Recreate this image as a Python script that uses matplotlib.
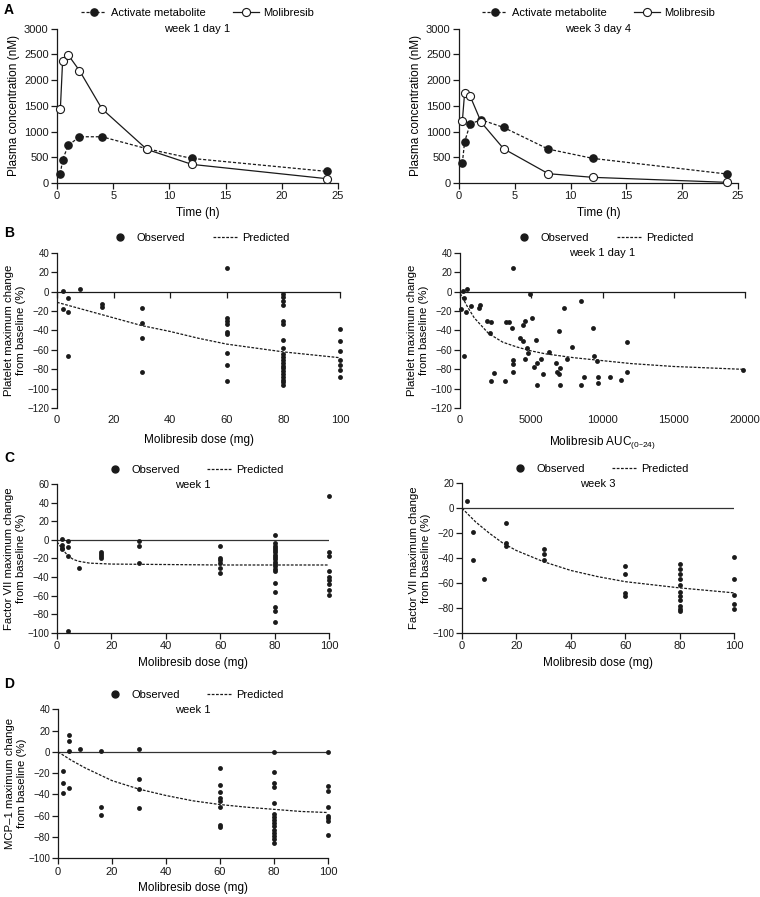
import numpy as np
import matplotlib
matplotlib.use('Agg')
import matplotlib.pyplot as plt
from matplotlib.lines import Line2D

plt.rcParams['font.family'] = ['Liberation Sans', 'DejaVu Sans']
plt.rcParams['font.size'] = 8

INK = '#1a1a1a'

# ---- panel A: PK profiles
t_h = [0.3, 0.5, 1, 2, 4, 8, 12, 24]
w1_metab = [181, 453, 731, 899, 899, 666, 478, 226]
w1_moli = [1442, 2379, 2489, 2185, 1442, 653, 362, 84]
w3_metab = [388, 795, 1151, 1228, 1080, 659, 478, 175]
w3_moli = [1203, 1746, 1688, 1177, 666, 181, 110, 13]

# ---- shared dose groups
doses = [2, 4, 8, 16, 30, 60, 80, 100]

# ---- panel B: platelets vs dose
plt_obs = [
    [1, -17.5],
    [-7, -21, -66],
    [3],
    [-13, -16],
    [-17, -32, -48, -83],
    [24, -27.5, -30, -33, -42, -44, -63.5, -75, -91.5],
    [-2, -6, -10, -14, -30, -33, -50, -58, -64, -67, -70, -73, -76, -79, -82, -85, -88, -91, -93, -96],
    [-38, -51, -61, -70, -75, -81, -88],
]
plt_pred_dose = [0, 10, 20, 30, 40, 50, 60, 70, 80, 90, 100]
plt_pred = [-11, -19, -27, -35, -41, -48, -54, -58, -62, -65, -68]

# ---- panel B: platelets vs AUC
auc = [70, 235, 306, 470, 424, 282, 776, 1365, 1412, 1906, 2188, 2118, 2188, 2376,
       3153, 3247, 3435, 3647, 3741, 3741, 3741, 3741, 4188, 4400, 4400, 4588, 4706,
       4753, 4541, 4894, 5059, 5318, 5200, 5435, 5435, 5671, 5812, 6259, 6706, 6800,
       6941, 6941, 6988, 7035, 7271, 7482, 7882, 8470, 8518, 8706, 9318, 9412, 9600,
       9718, 9718, 10494, 11294, 11694, 11694, 19835]
auc_plt = [-17.5, 0.6, -7, 2.7, -21, -66, -14.7, -16.5, -13.7, -30, -31.6, -42.5, -92, -84,
           -92, -31.6, -31.6, -37, 24, -70.3, -74.8, -82.3, -47.3, -50.7, -34.3, -30, -57.6,
           -63.4, -69.5, -2, -27.5, -50, -78, -73.6, -96, -69.5, -85, -62, -73.6, -83,
           -85, -41, -79, -96, -17, -69, -57, -10, -96, -88, -37.7, -66, -71,
           -88, -93.5, -88, -90.5, -51.7, -83, -81]
auc_pred_x = [0, 100, 500, 1000, 2000, 3000, 4000, 5000, 6000, 7000, 8000, 10000, 12000, 15000, 20000]
auc_pred = [-2, -4, -15, -27, -43, -52, -57, -61, -64, -66, -68, -71, -74, -77, -80]

# ---- panel C: factor VII week 1 / week 3
f7w1_obs = [
    [1, -5.8, -8.3, -10],
    [-1.5, -8, -17, -98],
    [-30],
    [-13, -15, -17, -19.5],
    [-1.5, -7, -25],
    [-7, -19, -21.6, -25, -30.6, -36],
    [5.3, -3.6, -6, -8.5, -11, -13.5, -16, -18.5, -21, -23.5, -26, -28.5, -31, -34,
     -46, -55.8, -72.6, -76.2, -89],
    [47, -12.7, -17.3, -34, -39.6, -43, -47.5, -54, -59.4],
]
f7w1_pred_dose = [0, 2, 4, 6, 8, 12, 20, 40, 60, 80, 100]
f7w1_pred = [-2, -10, -17, -21, -23, -25, -26, -26.5, -27, -27, -27]

f7w3_doses = [2, 4, 8, 16, 30, 60, 80, 100]
f7w3_obs = [
    [5.8],
    [-19, -42],
    [-56.6],
    [-11.6, -28, -30],
    [-33, -37, -42],
    [-46.7, -52.6, -68.4, -70.5],
    [-45, -49, -53, -56.6, -61.6, -67, -70.5, -74, -78.6, -81, -82.9],
    [-39, -57, -69.5, -77, -81],
]
f7w3_pred_dose = [0, 5, 10, 15, 20, 30, 40, 50, 60, 70, 80, 90, 100]
f7w3_pred = [0, -11, -20, -28, -34, -43, -50, -55, -59, -61.5, -64, -66, -68]

# ---- panel D: MCP-1 week 1
mcp_obs = [
    [-18, -29.6, -39],
    [15.6, 10.3, 0.5, -34.3],
    [2.4],
    [0.5, -51.5, -59.3],
    [3, -25.5, -34.9, -52.4],
    [-15, -31.4, -37.7, -43.3, -45.8, -51.5, -68.4, -70.9],
    [0, -19, -29, -33, -48, -58, -61, -64, -67, -70, -73, -76, -79, -82, -86],
    [0, -32, -36.7, -51.5, -60, -62.4, -64.6, -78],
]
mcp_pred_dose = [0, 5, 10, 20, 30, 40, 50, 60, 70, 80, 90, 100]
mcp_pred = [0, -8, -15, -27, -35, -41, -46, -49.5, -52, -54, -56, -57]

dose_ticks = [0, 20, 40, 60, 80, 100]

W, H = 760, 897
fig = plt.figure(figsize=(W / 100, H / 100), dpi=100)


def add_ax(left, right, top, bottom):
    return fig.add_axes([left / W, 1 - bottom / H, (right - left) / W, (bottom - top) / H])


def base_style(ax):
    for s in ['top', 'right']:
        ax.spines[s].set_visible(False)
    for s in ['left', 'bottom']:
        ax.spines[s].set_color(INK)
        ax.spines[s].set_linewidth(0.9)
    ax.tick_params(direction='out', length=4, width=0.9, colors=INK, labelsize=8, pad=2)
    ax.patch.set_alpha(0)


def pct_style(ax, ylab):
    # smaller y tick text + two-line label for the % panels
    ax.tick_params(axis='y', labelsize=7, pad=1.5)
    ax.set_ylabel(ylab, fontsize=8.2, labelpad=1, linespacing=1.3)


def obs_legend(ax):
    h = [Line2D([], [], ls='none', marker='o', color=INK, ms=5),
         Line2D([], [], ls=(0, (2.2, 1.2)), color=INK, lw=0.9)]
    ax.legend(h, ['Observed', 'Predicted'], loc='lower center', bbox_to_anchor=(0.5, 1.0),
              ncol=2, frameon=False, fontsize=8, handlelength=2.2, columnspacing=2.5,
              handletextpad=0.4, borderaxespad=0.45)


def scatter_groups(ax, xs, groups):
    for x, g in zip(xs, groups):
        ax.plot([x] * len(g), g, 'o', color=INK, ms=3.5, mew=0, clip_on=False, zorder=3)


def zero_axis(ax, ticks, label):
    # x axis drawn through y = 0, tick labels kept at the bottom
    ax.spines['bottom'].set_position(('data', 0))
    ax.set_xticks(ticks)
    ax.tick_params(axis='x', labelbottom=False)
    sec = ax.secondary_xaxis('bottom')
    sec.set_xticks(ticks)
    sec.spines['bottom'].set_visible(False)
    sec.tick_params(length=0, labelsize=8, pad=5, colors=INK)
    sec.set_xlabel(label, fontsize=8.5, labelpad=6)
    return sec


def title_in(ax, s):
    ax.text(0.5, 0.995, s, transform=ax.transAxes, ha='center', va='center', fontsize=8)


# ---------------- A
for (l, r), metab, moli, ttl in [((57, 338), w1_metab, w1_moli, 'week 1 day 1'),
                                  ((459, 738), w3_metab, w3_moli, 'week 3 day 4')]:
    ax = add_ax(l, r, 28.7, 183)
    base_style(ax)
    ax.plot(t_h, metab, ls=(0, (2.5, 1.5)), lw=0.9, color=INK, marker='o', ms=5.2,
            mfc=INK, mec=INK, label='Activate metabolite', clip_on=False, zorder=3)
    ax.plot(t_h, moli, ls='-', lw=0.9, color=INK, marker='o', ms=5.8,
            mfc='white', mec=INK, mew=0.8, label='Molibresib', clip_on=False, zorder=4)
    ax.set_xlim(0, 25)
    ax.set_ylim(0, 3000)
    ax.set_xticks([0, 5, 10, 15, 20, 25])
    ax.set_yticks(np.arange(0, 3001, 500))
    ax.set_xlabel('Time (h)', fontsize=8.5, labelpad=4)
    ax.set_ylabel('Plasma concentration (nM)', fontsize=8.5, labelpad=3)
    ax.legend(loc='lower center', bbox_to_anchor=(0.5, 1.0), ncol=2, frameon=False,
              fontsize=8, handlelength=2.3, columnspacing=2.5, handletextpad=0.4,
              borderaxespad=0.55)
    title_in(ax, ttl)

# ---------------- B left
ax = add_ax(57, 340, 252.7, 408.3)
base_style(ax)
scatter_groups(ax, doses, plt_obs)
ax.plot(plt_pred_dose, plt_pred, ls=(0, (2.2, 1.2)), lw=0.9, color=INK)
ax.set_xlim(0, 100)
ax.set_ylim(-120, 40)
ax.set_yticks(np.arange(-120, 41, 20))
pct_style(ax, 'Platelet maximum change\nfrom baseline (%)')
zero_axis(ax, dose_ticks, 'Molibresib dose (mg)')
obs_legend(ax)

# ---------------- B right
ax = add_ax(460, 745, 252.7, 408.3)
base_style(ax)
ax.plot(auc, auc_plt, 'o', color=INK, ms=3.5, mew=0, clip_on=False, zorder=3)
ax.plot(auc_pred_x, auc_pred, ls=(0, (2.2, 1.2)), lw=0.9, color=INK)
ax.set_xlim(0, 20000)
ax.set_ylim(-120, 40)
ax.set_yticks(np.arange(-120, 41, 20))
pct_style(ax, 'Platelet maximum change\nfrom baseline (%)')
zero_axis(ax, [0, 5000, 10000, 15000, 20000], r'Molibresib AUC$_{\mathregular{(0–24)}}$')
obs_legend(ax)
title_in(ax, 'week 1 day 1')

# ---------------- C left / C right / D
for (l, r, t, b), xs, obs, px, py, ylo, yhi, ylab, ttl in [
        ((57, 329, 484.3, 632.7), doses, f7w1_obs, f7w1_pred_dose, f7w1_pred, -100, 60,
         'Factor VII maximum change\nfrom baseline (%)', 'week 1'),
        ((462, 734, 483.3, 632.7), f7w3_doses, f7w3_obs, f7w3_pred_dose, f7w3_pred, -100, 20,
         'Factor VII maximum change\nfrom baseline (%)', 'week 3'),
        ((58, 328, 709.3, 858.3), doses, mcp_obs, mcp_pred_dose, mcp_pred, -100, 40,
         'MCP\u20131 maximum change\nfrom baseline (%)', 'week 1')]:
    ax = add_ax(l, r, t, b)
    base_style(ax)
    ax.axhline(0, color='#333333', lw=0.9, zorder=1)
    scatter_groups(ax, xs, obs)
    ax.plot(px, py, ls=(0, (2.2, 1.2)), lw=0.9, color=INK, zorder=2)
    ax.set_xlim(0, 100)
    ax.set_ylim(ylo, yhi)
    ax.set_xticks(dose_ticks)
    ax.set_yticks(np.arange(ylo, yhi + 1, 20))
    ax.set_xlabel('Molibresib dose (mg)', fontsize=8.5, labelpad=4)
    pct_style(ax, ylab)
    obs_legend(ax)
    title_in(ax, ttl)

# panel letters
for letter, y in [('A', 10), ('B', 233), ('C', 458), ('D', 684)]:
    fig.text(4 / W, 1 - y / H, letter, fontsize=10, fontweight='bold', va='center', ha='left')

fig.savefig('out.png', dpi=100)
